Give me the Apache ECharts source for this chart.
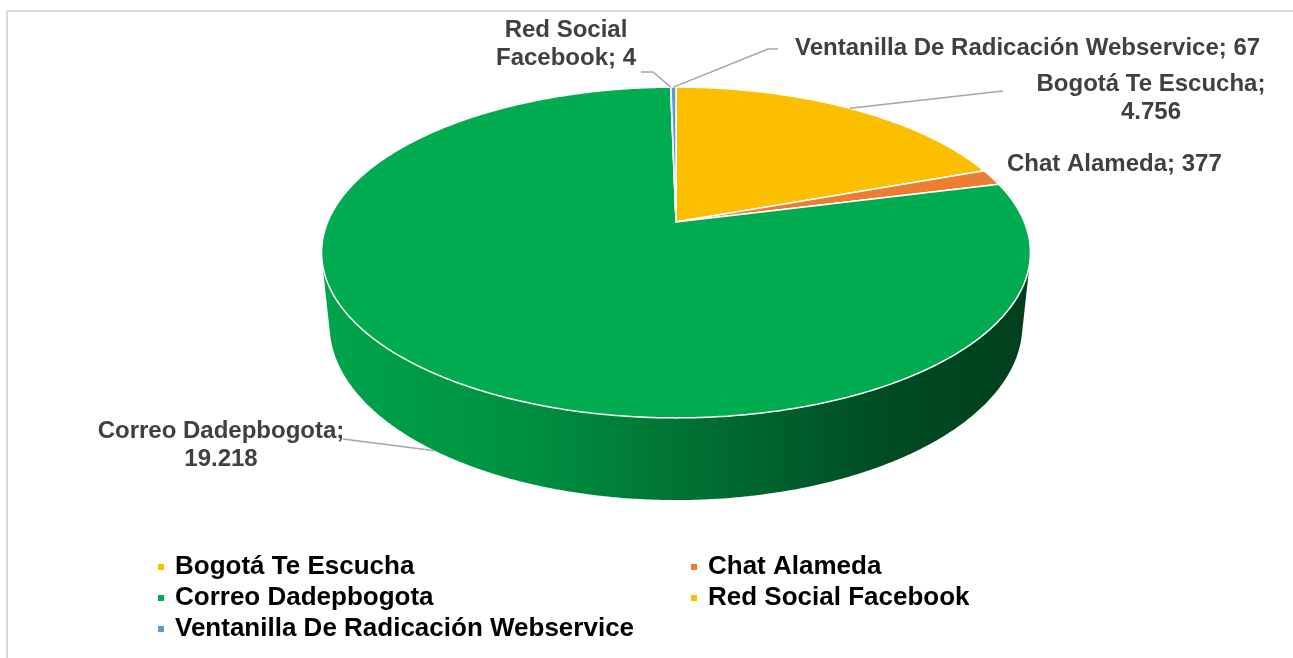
<!DOCTYPE html>
<html>
<head>
<meta charset="utf-8">
<title>Canales</title>
<script src="https://cdn.jsdelivr.net/npm/echarts@6/dist/echarts.min.js"></script>
<style>
  html, body { margin: 0; padding: 0; background: #fff; }
  #chart { width: 1293px; height: 658px; }
</style>
</head>
<body>
<div id="chart"></div>
<script>
// datos
const categories = ['Bogotá Te Escucha', 'Chat Alameda', 'Correo Dadepbogota', 'Red Social Facebook', 'Ventanilla De Radicación Webservice'];
const values = [4756, 377, 19218, 4, 67];
const colors = ['#FCBF00', '#ED7D31', '#00AC4F', '#FCBF00', '#5B9BD5'];

// vista 3D (perspectiva tipo Excel)
const view = { cx: 676, cy: 222, f: 1679, dist: 4.82, tilt: 27.3, depth: 0.2367 };
const sinT = Math.sin(view.tilt * Math.PI / 180);
const cosT = Math.cos(view.tilt * Math.PI / 180);

// posicion de las etiquetas y lineas guia
const labelLayout = [
  { x: 1151, y: 98, align: 'center', end: [1003, 91], anchor: 'top' },
  { x: 1007, y: 164, align: 'left', end: null },
  { x: 221, y: 445, align: 'center', end: [343, 439], anchor: 'bottom' },
  { x: 566, y: 44, align: 'center', end: [641, 72], elbow: [653, 72], anchor: 'top' },
  { x: 795, y: 48, align: 'left', end: [778, 49], elbow: [768, 49], anchor: 'top' },
];

const total = values.reduce((a, b) => a + b, 0);
const startAngles = [];
const endAngles = [];
let acc = 0;
values.forEach((v) => {
  startAngles.push(acc / total * 360);
  acc += v;
  endAngles.push(acc / total * 360);
});

function fmt(n) {
  return String(n).replace(/\B(?=(\d{3})+(?!\d))/g, '.');
}

// angulo en grados, desde arriba en sentido horario; w = altura (0 arriba, -depth abajo)
function proj(deg, w) {
  const t = deg * Math.PI / 180;
  const u = Math.sin(t);
  const v = -Math.cos(t);
  const Y = v * sinT - w * cosT;
  const Z = view.dist - v * cosT - w * sinT;
  return [view.cx + view.f * u / Z, view.cy + view.f * Y / Z];
}

// parte visible del costado
const v0 = 1 / (cosT * view.dist);
const sideFrom = Math.acos(-v0) * 180 / Math.PI;
const sideTo = 360 - sideFrom;

const sideFill = {
  type: 'linear', x: 0, y: 0, x2: 1, y2: 0,
  colorStops: [
    { offset: 0, color: '#00A44C' },
    { offset: 0.3, color: '#008F41' },
    { offset: 0.55, color: '#006D31' },
    { offset: 0.8, color: '#004B23' },
    { offset: 1, color: '#003F1D' },
  ],
};

function arc(a0, a1, w) {
  const pts = [];
  const n = Math.max(2, Math.ceil((a1 - a0) / 0.5));
  for (let k = 0; k <= n; k++) {
    pts.push(proj(a0 + (a1 - a0) * k / n, w));
  }
  return pts;
}

function makeRender(i) {
  return function () {
    const a0 = startAngles[i];
    const a1 = endAngles[i];
    const children = [];

    const lo = Math.max(a0, sideFrom);
    const hi = Math.min(a1, sideTo);
    if (hi > lo) {
      const pts = arc(lo, hi, 0).concat(arc(lo, hi, -view.depth).reverse());
      children.push({ type: 'polygon', z2: 1, shape: { points: pts }, style: { fill: sideFill } });
    }

    const top = [[view.cx, view.cy]].concat(arc(a0, a1, 0));
    children.push({
      type: 'polygon', z2: 5, shape: { points: top },
      style: { fill: colors[i], stroke: '#fff', lineWidth: 1.5, lineJoin: 'round' },
    });

    const lay = labelLayout[i];
    const mid = (a0 + a1) / 2;
    if (lay.end) {
      const p = proj(mid, lay.anchor === 'bottom' ? -view.depth : 0);
      const line = [p];
      if (lay.elbow) line.push(lay.elbow);
      line.push(lay.end);
      children.push({
        type: 'polyline', z2: 6, shape: { points: line },
        style: { stroke: '#A6A6A6', lineWidth: 1.5, fill: null },
      });
    }
    let txt = categories[i] + '; ' + fmt(values[i]);
    if (i === 0 || i === 2) txt = categories[i] + ';\n' + fmt(values[i]);
    if (i === 3) txt = 'Red Social\nFacebook; ' + fmt(values[i]);
    children.push({
      type: 'text', z2: 7, x: lay.x, y: lay.y,
      style: {
        text: txt, fill: '#404040', fontSize: 24, fontWeight: 'bold',
        fontFamily: 'Liberation Sans, Arial, sans-serif',
        align: lay.align, verticalAlign: 'middle', lineHeight: 28,
      },
    });
    return { type: 'group', children };
  };
}

const chart = echarts.init(document.getElementById('chart'));
chart.setOption({
  animation: false,
  backgroundColor: '#fff',
  graphic: [
    { type: 'line', shape: { x1: 7, y1: 11, x2: 1293, y2: 11 }, style: { stroke: '#D9D9D9', lineWidth: 2 } },
    { type: 'line', shape: { x1: 7, y1: 11, x2: 7, y2: 658 }, style: { stroke: '#D9D9D9', lineWidth: 2 } },
  ],
  legend: {
    left: 153,
    top: 549,
    width: 1100,
    itemWidth: 6,
    itemHeight: 6,
    itemGap: 5,
    icon: 'rect',
    data: categories,
    textStyle: {
      fontSize: 26, fontWeight: 'bold', color: '#000',
      fontFamily: 'Liberation Sans, Arial, sans-serif',
      width: 511, lineHeight: 26, padding: [0, 0, 0, 6],
    },
  },
  series: categories.map((name, i) => ({
    type: 'custom',
    name,
    coordinateSystem: 'none',
    silent: true,
    itemStyle: { color: colors[i] },
    data: [[values[i]]],
    renderItem: makeRender(i),
  })),
});
</script>
</body>
</html>
